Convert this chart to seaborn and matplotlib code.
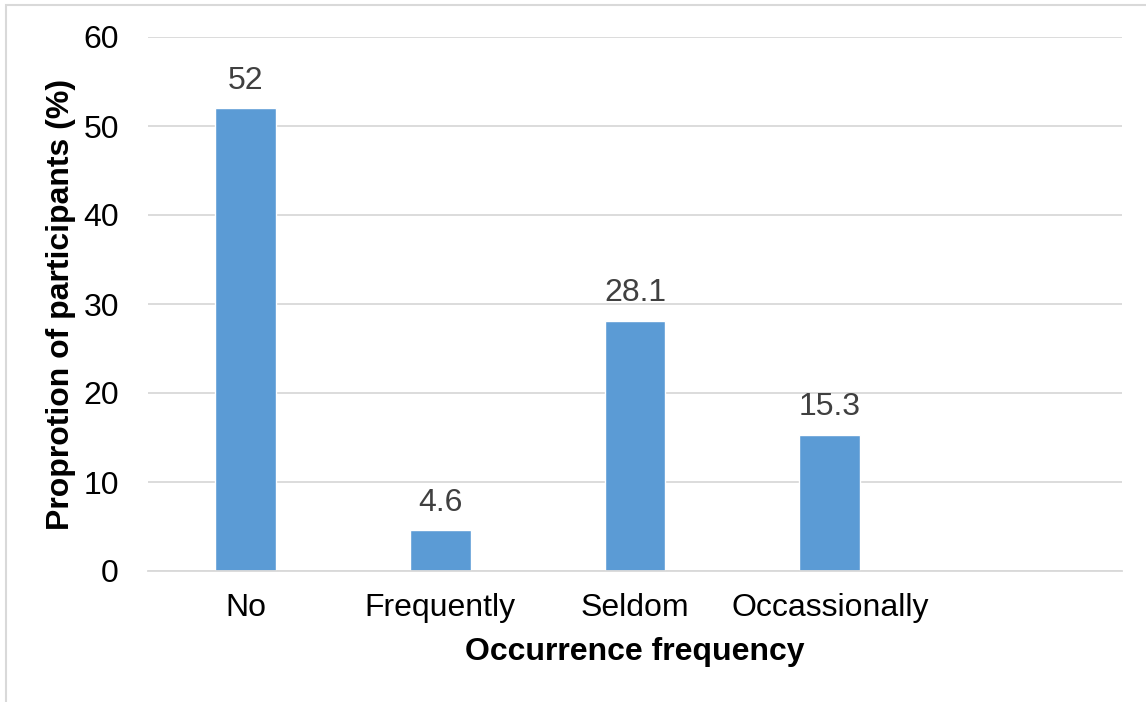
import matplotlib
matplotlib.use("Agg")
import matplotlib.pyplot as plt
import matplotlib.patches as mpatches
import seaborn as sns
import pandas as pd

categories = ["No", "Frequently", "Seldom", "Occassionally"]
values = [52, 4.6, 28.1, 15.3]
value_labels = ["52", "4.6", "28.1", "15.3"]
yticks = [0, 10, 20, 30, 40, 50, 60]

sns.set_theme(style="white")
plt.rcParams['font.family'] = ['Liberation Sans', 'DejaVu Sans']

W, H = 1146, 702
fig = plt.figure(figsize=(W / 100, H / 100), dpi=100)
ax = fig.add_axes([148 / W, 1 - 571 / H, (1122 - 148) / W, (571 - 37) / H])

df = pd.DataFrame({"cat": categories, "val": values})
sns.barplot(data=df, x="cat", y="val", order=categories, color="#5B9BD5",
            saturation=1, width=0.313, ax=ax)

ax.set_xlim(-0.5, 4.5)
ax.set_ylim(0, 60)
ax.set_yticks(yticks)
ax.yaxis.grid(True, color="#D9D9D9", linewidth=1.3)
ax.set_axisbelow(True)
for s in ["top", "right", "left"]:
    ax.spines[s].set_visible(False)
ax.spines["bottom"].set_color("#D9D9D9")
ax.spines["bottom"].set_linewidth(1.3)
ax.tick_params(axis="both", length=0, labelsize=23, colors="#000000")
ax.tick_params(axis="y", pad=21)
ax.tick_params(axis="x", pad=16)

ax.bar_label(ax.containers[0], labels=value_labels, padding=9, fontsize=23, color="#404040")

ax.set_xlabel("Occurrence frequency", fontsize=23, fontweight="bold", labelpad=10, color="#000000")
ax.set_ylabel("Proprotion of participants (%)", fontsize=23, fontweight="bold", labelpad=5, color="#000000")

border = mpatches.Rectangle((6 / W, -0.1), 1.2, 1 - 5 / H + 0.1, transform=fig.transFigure,
                            fill=False, edgecolor="#D9D9D9", linewidth=1.5, clip_on=False)
fig.patches.append(border)

fig.savefig("out.png", dpi=100)
